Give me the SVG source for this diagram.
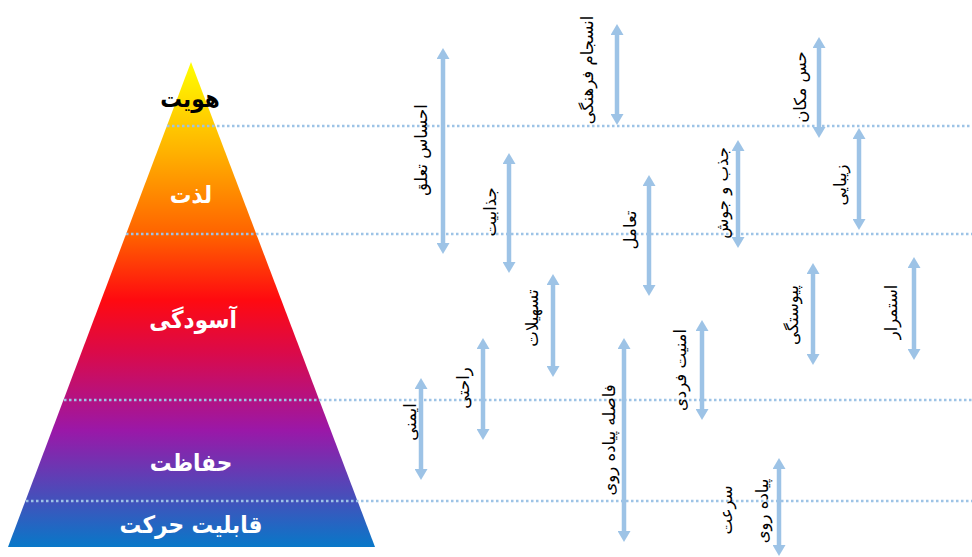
<svg xmlns="http://www.w3.org/2000/svg" width="972" height="557" viewBox="0 0 972 557">
<defs>
<linearGradient id="pg" gradientUnits="userSpaceOnUse" x1="0" y1="62" x2="0" y2="547">
<stop offset="0" stop-color="#FFFF00"/>
<stop offset="0.18" stop-color="#FFB400"/>
<stop offset="0.36" stop-color="#FF6000"/>
<stop offset="0.49" stop-color="#FF0A10"/>
<stop offset="0.6" stop-color="#DA0A4A"/>
<stop offset="0.76" stop-color="#9A18A8"/>
<stop offset="1" stop-color="#0878C8"/>
</linearGradient>
<marker id="ah" markerUnits="userSpaceOnUse" markerWidth="11" markerHeight="13" viewBox="0 0 11 13" refX="1" refY="6.5" orient="auto-start-reverse">
<path d="M0,0 L11,6.5 L0,13 z" fill="#9DC3E6"/>
</marker>
</defs>
<style>
.lvl{font-family:"DejaVu Sans Condensed","DejaVu Sans",sans-serif;font-weight:bold;font-size:24px;fill:#fff;text-anchor:middle}
.lbl{font-family:"DejaVu Sans",sans-serif;font-size:16.5px;fill:#000;text-anchor:middle;dominant-baseline:central}
.dot{stroke:#9DC3E6;stroke-width:2.5;stroke-dasharray:2.5 2.5;fill:none}
.arr{stroke:#9DC3E6;stroke-width:4.5;marker-start:url(#ah);marker-end:url(#ah)}
</style>
<rect width="972" height="557" fill="#fff"/>
<g id="pyramid">
<polygon points="191,62 8,547 375,547" fill="url(#pg)"/>
</g>
<g id="levels">
<line class="dot" x1="167" y1="126" x2="972" y2="126"/>
<line class="dot" x1="126" y1="234" x2="972" y2="234"/>
<line class="dot" x1="64" y1="400" x2="972" y2="400"/>
<line class="dot" x1="26" y1="501" x2="972" y2="501"/>
</g>
<g id="level-labels">
<text class="lvl" x="190" y="107" style="fill:#000">هویت</text>
<text class="lvl" x="191" y="203">لذت</text>
<text class="lvl" x="193" y="328">آسودگی</text>
<text class="lvl" x="191" y="471">حفاظت</text>
<text class="lvl" x="191" y="533">قابلیت حرکت</text>
</g>
<g id="connectors">
<line class="arr" x1="443" y1="58" x2="443" y2="244"/>
<line class="arr" x1="509" y1="163" x2="509" y2="263"/>
<line class="arr" x1="617" y1="34" x2="617" y2="115"/>
<line class="arr" x1="649" y1="185" x2="649" y2="286"/>
<line class="arr" x1="738" y1="150" x2="738" y2="238"/>
<line class="arr" x1="819" y1="47" x2="819" y2="128"/>
<line class="arr" x1="859" y1="138" x2="859" y2="220"/>
<line class="arr" x1="421" y1="388" x2="421" y2="470"/>
<line class="arr" x1="483" y1="348" x2="483" y2="430"/>
<line class="arr" x1="553" y1="284" x2="553" y2="367"/>
<line class="arr" x1="624" y1="348" x2="624" y2="532"/>
<line class="arr" x1="702" y1="330" x2="702" y2="410"/>
<line class="arr" x1="779" y1="468" x2="779" y2="546"/>
<line class="arr" x1="813" y1="273" x2="813" y2="355"/>
<line class="arr" x1="914" y1="267" x2="914" y2="350"/>
</g>
<g id="labels">
<text class="lbl" transform="translate(421,150) rotate(-90)">احساس تعلق</text>
<text class="lbl" transform="translate(490,212) rotate(-90)">جذابیت</text>
<text class="lbl" transform="translate(587,70) rotate(-90)">انسجام فرهنگی</text>
<text class="lbl" transform="translate(630,230) rotate(-90)">تعامل</text>
<text class="lbl" transform="translate(722,193) rotate(-90)">جذب و جوش</text>
<text class="lbl" transform="translate(800,87) rotate(-90)">حس مکان</text>
<text class="lbl" transform="translate(840,185) rotate(-90)">زیبایی</text>
<text class="lbl" transform="translate(410,422) rotate(-90)">ایمنی</text>
<text class="lbl" transform="translate(463,388) rotate(-90)">راحتی</text>
<text class="lbl" transform="translate(532,318) rotate(-90)">تسهیلات</text>
<text class="lbl" transform="translate(609,440) rotate(-90)">فاصله پیاده روی</text>
<text class="lbl" transform="translate(680,370) rotate(-90)">امنیت فردی</text>
<text class="lbl" transform="translate(726,510) rotate(-90)">سرعت</text>
<text class="lbl" transform="translate(762,511) rotate(-90)">پیاده روی</text>
<text class="lbl" transform="translate(792,315) rotate(-90)">پیوستگی</text>
<text class="lbl" transform="translate(891,312) rotate(-90)">استمرار</text>
</g>
</svg>
